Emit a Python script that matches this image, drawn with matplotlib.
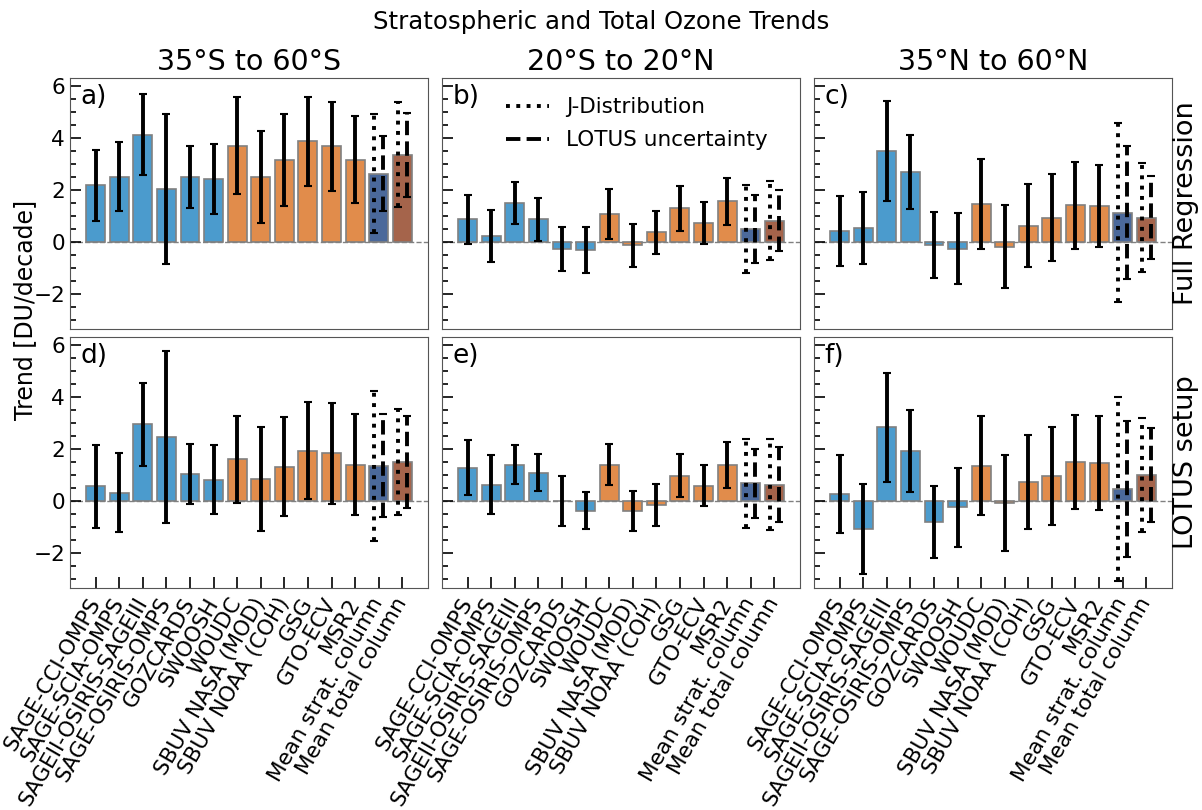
import numpy as np
import matplotlib.pyplot as plt
from matplotlib.lines import Line2D

# dataset names along the x axis
datasets = ['SAGE-CCI-OMPS', 'SAGE-SCIA-OMPS', 'SAGEII-OSIRIS-SAGEIII',
            'SAGE-OSIRIS-OMPS', 'GOZCARDS', 'SWOOSH', 'WOUDC',
            'SBUV NASA (MOD)', 'SBUV NOAA (COH)', 'GSG', 'GTO-ECV', 'MSR2',
            'Mean strat. column', 'Mean total column']

lat_bands = ['35°S to 60°S', '20°S to 20°N', '35°N to 60°N']
row_names = ['Full Regression', 'LOTUS setup']
panel_tags = ['a)', 'b)', 'c)', 'd)', 'e)', 'f)']

# trends [DU/decade], 12 datasets + 2 means
trend_a = [2.18, 2.51, 4.13, 2.03, 2.51, 2.42, 3.71, 2.51, 3.15, 3.87, 3.68, 3.17, 2.63, 3.35]
trend_b = [0.87, 0.22, 1.50, 0.87, -0.28, -0.31, 1.09, -0.13, 0.37, 1.29, 0.73, 1.56, 0.49, 0.82]
trend_c = [0.42, 0.54, 3.49, 2.68, -0.13, -0.26, 1.47, -0.19, 0.62, 0.94, 1.41, 1.38, 1.13, 0.94]
trend_d = [0.56, 0.32, 2.95, 2.47, 1.04, 0.82, 1.60, 0.85, 1.32, 1.94, 1.83, 1.40, 1.36, 1.49]
trend_e = [1.28, 0.63, 1.40, 1.09, 0.00, -0.37, 1.40, -0.40, -0.15, 0.97, 0.59, 1.37, 0.68, 0.63]
trend_f = [0.26, -1.09, 2.83, 1.92, -0.81, -0.24, 1.36, -0.08, 0.73, 0.95, 1.49, 1.47, 0.47, 0.99]

# uncertainties of the single datasets
err_a = [1.36, 1.33, 1.56, 2.89, 1.20, 1.35, 1.85, 1.77, 1.76, 1.70, 1.71, 1.68]
err_b = [0.95, 1.00, 0.80, 0.82, 0.85, 0.89, 0.96, 0.82, 0.82, 0.88, 0.81, 0.89]
err_c = [1.33, 1.40, 1.93, 1.43, 1.27, 1.37, 1.74, 1.60, 1.60, 1.68, 1.68, 1.59]
err_d = [1.61, 1.51, 1.59, 3.30, 1.17, 1.33, 1.68, 2.00, 1.90, 1.87, 1.95, 1.93]
err_e = [1.06, 1.13, 0.75, 0.72, 0.97, 0.72, 0.78, 0.77, 0.80, 0.83, 0.78, 0.88]
err_f = [1.51, 1.73, 2.09, 1.59, 1.40, 1.52, 1.92, 1.85, 1.82, 1.88, 1.80, 1.81]

# uncertainties of the two means: J-Distribution and LOTUS
jdist_a = [2.30, 2.02]
jdist_b = [1.69, 1.52]
jdist_c = [3.45, 2.09]
jdist_d = [2.89, 2.05]
jdist_e = [1.71, 1.74]
jdist_f = [3.54, 2.20]
lotus_a = [1.43, 1.61]
lotus_b = [1.30, 1.18]
lotus_c = [2.55, 1.58]
lotus_d = [1.97, 1.78]
lotus_e = [1.33, 1.44]
lotus_f = [2.62, 1.80]

trends = [trend_a, trend_b, trend_c, trend_d, trend_e, trend_f]
errs = [err_a, err_b, err_c, err_d, err_e, err_f]
jdists = [jdist_a, jdist_b, jdist_c, jdist_d, jdist_e, jdist_f]
lotuses = [lotus_a, lotus_b, lotus_c, lotus_d, lotus_e, lotus_f]

colors = ['#4b9bcd'] * 6 + ['#e18c4b'] * 6 + ['#4b699b', '#a5644b']

fig, axes = plt.subplots(2, 3, figsize=(12.02, 8.1), dpi=100, sharex=True, sharey=True)
plt.subplots_adjust(left=0.0582, right=0.975, top=0.9037, bottom=0.2741,
                    wspace=0.039, hspace=0.032)

x = np.arange(len(datasets))
for i, ax in enumerate(axes.flat):
    ax.axhline(0, color='gray', ls='--', lw=1, zorder=0)
    ax.bar(x, trends[i], width=0.8, color=colors, edgecolor='gray', lw=1.2, zorder=1)

    # single datasets
    ax.errorbar(x[:12], trends[i][:12], yerr=errs[i], fmt='none', ecolor='k',
                elinewidth=2.8, capsize=3, capthick=1.5, zorder=2)

    # means with two kinds of uncertainty
    eb = ax.errorbar(x[12:] - 0.2, trends[i][12:], yerr=jdists[i], fmt='none',
                     ecolor='k', elinewidth=2.8, capsize=3, capthick=1.5, zorder=2)
    eb[2][0].set_linestyle(':')
    eb = ax.errorbar(x[12:] + 0.2, trends[i][12:], yerr=lotuses[i], fmt='none',
                     ecolor='k', elinewidth=2.8, capsize=3, capthick=1.5, zorder=2)
    eb[2][0].set_linestyle('--')

    ax.text(0.03, 0.975, panel_tags[i], transform=ax.transAxes, fontsize=19,
            va='top', ha='left')

    ax.set_ylim(-3.35, 6.31)
    ax.set_yticks([-2, 0, 2, 4, 6])
    ax.set_yticks(np.arange(-3, 6.1, 0.5), minor=True)
    ax.tick_params(axis='y', which='both', direction='in', labelsize=15.5, left=True, right=False)
    ax.tick_params(axis='y', which='major', length=8, width=1.2)
    ax.tick_params(axis='y', which='minor', length=4, width=1.2)
    ax.tick_params(axis='x', which='both', direction='in', length=8, width=1.2, labelsize=15.5,
                   top=False)
    for s in ax.spines.values():
        s.set_color('#555555')

for ax in axes[0]:
    ax.tick_params(axis='x', bottom=False)
for j, ax in enumerate(axes[0]):
    ax.set_title(lat_bands[j], fontsize=20.5, pad=6)

for ax in axes[1]:
    ax.set_xticks(x)
    ax.set_xticklabels(datasets, rotation=60, ha='right', va='center',
                       rotation_mode='anchor')
    ax.tick_params(axis='x', pad=8)

# legend for the mean uncertainties
handles = [Line2D([], [], color='k', ls=':', lw=2.8),
           Line2D([], [], color='k', ls='--', lw=2.8)]
axes[0, 1].legend(handles, ['J-Distribution', 'LOTUS uncertainty'], loc='upper right',
                  bbox_to_anchor=(0.965, 1.0), frameon=False, fontsize=15.5,
                  labelspacing=0.6)

# row labels on the right
for r, ax in enumerate(axes[:, 2]):
    ax.text(1.04, 0.5, row_names[r], transform=ax.transAxes, rotation=90,
            fontsize=19.5, va='center', ha='center')

fig.text(0.021, 0.617, 'Trend [DU/decade]', rotation=90, fontsize=17,
         va='center', ha='center')
fig.suptitle('Stratospheric and Total Ozone Trends', fontsize=17.6, y=0.988)

plt.savefig('out.png', dpi=100)
